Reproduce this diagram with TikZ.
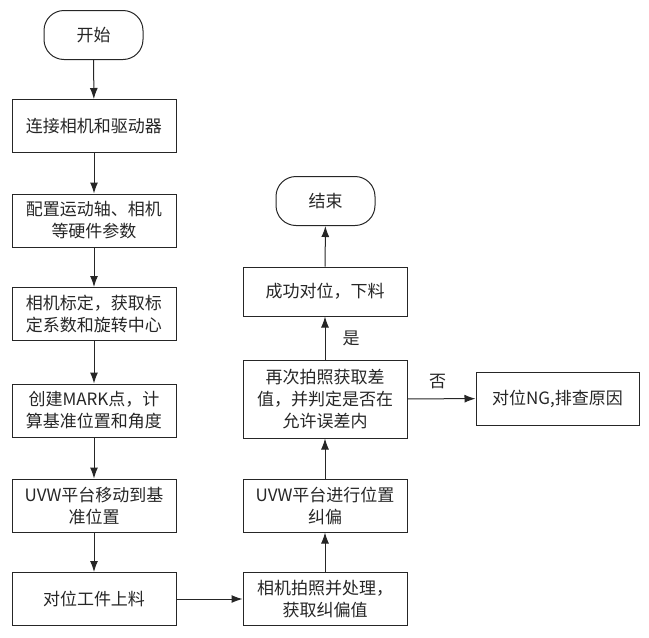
\documentclass[tikz,border=0pt]{standalone}
\usepackage{fontspec}
\setmainfont{Noto Sans CJK SC}
\usepackage{tikz}
\usetikzlibrary{arrows.meta, positioning}
\tikzstyle{terminal}=[draw=black!85, line width=1pt, rounded corners=20pt,
  minimum width=99pt, minimum height=49pt]
\tikzstyle{process}=[draw=black!85, line width=1pt, align=center,
  minimum width=164pt, minimum height=53pt]
\tikzstyle{arrow}=[-{Latex[length=11pt,width=8pt]}, line width=1pt, draw=black!85]
\tikzstyle{lbl}=[inner sep=1pt]

\begin{document}
\begin{tikzpicture}[x=1pt, y=-1pt, font=\fontsize{17}{22}\selectfont, text=black!85]
      \useasboundingbox (0,0) rectangle (649,638);

      \node[terminal] (start) at (93.5,35) {开始};
      \node[process] (connect) at (94,126) {连接相机和驱动器};
      \node[process] (config) at (94,220.5) {配置运动轴、相机\\等硬件参数};
      \node[process] (calib) at (94,314) {相机标定，获取标\\定系数和旋转中心};
      \node[process] (mark) at (94,410.5) {创建MARK点，计\\算基准位置和角度};
      \node[process] (uvwmove) at (94,505.5) {UVW平台移动到基\\准位置};
      \node[process] (load) at (94,599) {对位工件上料};

      \node[process] (shoot) at (325,599) {相机拍照并处理，\\获取纠偏值};
      \node[process] (correct) at (325,505.5) {UVW平台进行位置\\纠偏};
      \node[process, minimum height=78pt] (check) at (325,399)
        {再次拍照获取差\\值，并判定是否在\\允许误差内};
      \node[process, minimum height=49pt] (ok) at (325,291.5) {成功对位，下料};
      \node[terminal] (finish) at (325.5,201) {结束};
      \node[process, minimum width=163pt] (ng) at (557.5,398.5) {对位NG,排查原因};

      \draw[arrow] (start) -- (connect);
      \draw[arrow] (connect) -- (config);
      \draw[arrow] (config) -- (calib);
      \draw[arrow] (calib) -- (mark);
      \draw[arrow] (mark) -- (uvwmove);
      \draw[arrow] (uvwmove) -- (load);
      \draw[arrow] (load) -- (shoot);
      \draw[arrow] (shoot) -- (correct);
      \draw[arrow] (correct) -- (check);
      \draw[arrow] (check) -- node[lbl, right=16pt] {是} (ok);
      \draw[arrow] (ok) -- (finish);
      \draw[arrow] (check) -- node[lbl, above=8pt, xshift=-4pt] {否} (ng);
    \end{tikzpicture}
\end{document}
